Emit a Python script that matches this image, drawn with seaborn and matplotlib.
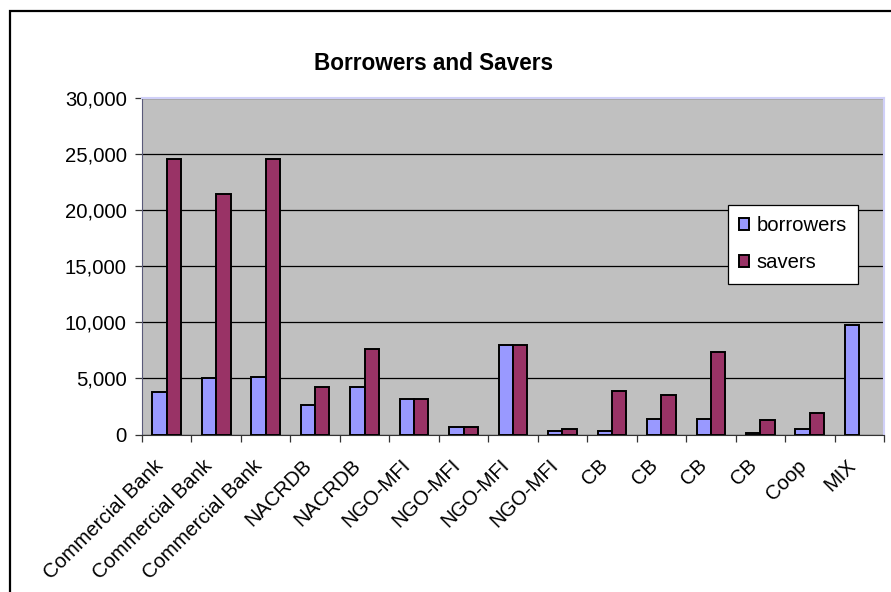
import numpy as np
import pandas as pd
import seaborn as sns
import matplotlib.pyplot as plt
from matplotlib.patches import Rectangle
from matplotlib.ticker import StrMethodFormatter

categories = ['Commercial Bank', 'Commercial Bank', 'Commercial Bank', 'NACRDB', 'NACRDB',
              'NGO-MFI', 'NGO-MFI', 'NGO-MFI', 'NGO-MFI', 'CB', 'CB', 'CB', 'CB', 'Coop', 'MIX']
borrowers = [3750, 5000, 5100, 2650, 4250, 3200, 700, 8000, 350, 350, 1400, 1400, 150, 500, 9750]
savers = [24500, 21450, 24500, 4250, 7600, 3200, 700, 8000, 500, 3900, 3500, 7300, 1250, 1950, np.nan]
yticks = [0, 5000, 10000, 15000, 20000, 25000, 30000]

df = pd.DataFrame({'pos': range(len(categories)), 'borrowers': borrowers, 'savers': savers})
df = df.melt(id_vars='pos', var_name='series', value_name='value').dropna()

sns.set_style('ticks')
plt.rcParams['font.family'] = ['Liberation Sans', 'DejaVu Sans']
plt.rcParams['text.color'] = 'black'
plt.rcParams['xtick.labelcolor'] = 'black'
plt.rcParams['ytick.labelcolor'] = 'black'

fig = plt.figure(figsize=(8.91, 5.92), dpi=100)
ax = fig.add_axes([142 / 891, 1 - 434.5 / 592, (884 - 142) / 891, (434.5 - 97.5) / 592])
ax.set_facecolor('#C0C0C0')

sns.barplot(df, x='pos', y='value', hue='series', hue_order=['borrowers', 'savers'],
            palette=['#9999FF', '#993366'], width=0.58, edgecolor='black', linewidth=1.4,
            saturation=1, ax=ax, zorder=3)

ax.set_xlim(-0.5, len(categories) - 0.5)
ax.set_ylim(0, 30000)
ax.set_yticks(yticks)
ax.yaxis.set_major_formatter(StrMethodFormatter('{x:,.0f}'))
ax.yaxis.grid(True, color='black', lw=0.9)
ax.set_axisbelow(True)

ax.set_xticks(range(len(categories)))
ax.set_xticklabels(categories, rotation=45, ha='right', va='bottom', rotation_mode='anchor')
ax.set_xticks(np.arange(-0.5, len(categories), 1), minor=True)
ax.tick_params(axis='x', which='major', length=0, pad=25, labelsize=14.6, labelcolor='black')
ax.tick_params(axis='x', which='minor', length=5, width=0.9, color='#333333')
ax.tick_params(axis='y', length=5, width=0.9, pad=6, labelsize=14.6, color='#333333',
               labelcolor='black')
ax.set_xlabel('')
ax.set_ylabel('')

ax.spines['left'].set_color('#5A5A7A')
ax.spines['bottom'].set_color('#333333')
for s in ['top', 'right']:
    ax.spines[s].set_visible(True)
    ax.spines[s].set_color('#D0D0F8')
    ax.spines[s].set_linewidth(1.5)

h, l = ax.get_legend_handles_labels()
leg = ax.legend(h, l, loc='upper left', bbox_to_anchor=(728 / 891, 1 - 205 / 592),
                bbox_transform=fig.transFigure, borderaxespad=0, fontsize=14.6,
                handlelength=0.5, handleheight=0.5, handletextpad=0.35,
                labelspacing=0.9, borderpad=0.55, fancybox=False, framealpha=1,
                edgecolor='black')
leg.get_frame().set_linewidth(0.9)
for t in leg.get_texts():
    t.set_color('black')

fig.text(433.5 / 891, 1 - 63 / 592, 'Borrowers and Savers', ha='center', va='center',
         fontsize=16.3, fontweight='bold', color='black')

fig.patches.append(Rectangle((10 / 891, -0.1), 1.2, (592 - 11) / 592 + 0.1,
                             transform=fig.transFigure, fill=False, lw=1.6, ec='black'))

fig.savefig('out.png', dpi=100)
